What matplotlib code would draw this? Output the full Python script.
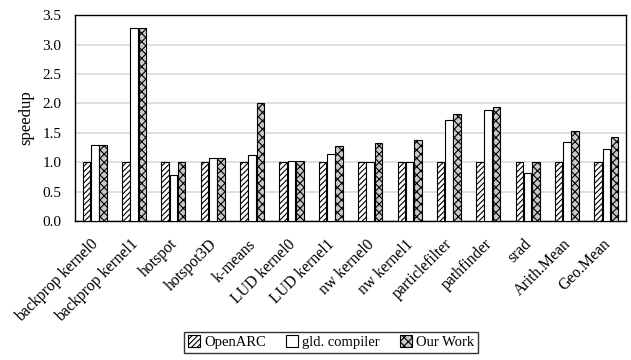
import numpy as np
import matplotlib
matplotlib.use('Agg')
import matplotlib.pyplot as plt
from matplotlib.transforms import ScaledTranslation

plt.rcParams['font.family'] = 'Liberation Serif'
plt.rcParams['hatch.linewidth'] = 0.8

benchmarks = ['backprop kernel0', 'backprop kernel1', 'hotspot', 'hotspot3D', 'k-means',
              'LUD kernel0', 'LUD kernel1', 'nw kernel0', 'nw kernel1', 'particlefilter',
              'pathfinder', 'srad', 'Arith.Mean', 'Geo.Mean']
openarc = [1.0, 1.0, 1.0, 1.0, 1.0, 1.0, 1.0, 1.0, 1.0, 1.0, 1.0, 1.0, 1.0, 1.0]
gld = [1.30, 3.28, 0.79, 1.07, 1.12, 1.02, 1.14, 1.0, 1.0, 1.72, 1.89, 0.82, 1.34, 1.23]
ours = [1.30, 3.28, 1.0, 1.07, 2.0, 1.02, 1.27, 1.32, 1.38, 1.82, 1.94, 1.0, 1.53, 1.43]

fig = plt.figure(figsize=(6.31, 3.6), dpi=100)
ax = fig.add_axes([0.119, 0.386, 0.873, 0.572])

x = np.arange(len(benchmarks))
w = 0.19
ax.bar(x - w - 0.02, openarc, w, color='white', edgecolor='black', hatch='//////', lw=0.8, label='OpenARC', zorder=3)
ax.bar(x, gld, w, color='white', edgecolor='black', lw=0.8, label='gld. compiler', zorder=3)
ax.bar(x + w + 0.02, ours, w, color='#c8c8c8', edgecolor='black', hatch='xxxx', lw=0.8, label='Our Work', zorder=3)

ax.set_xlim(-0.5, len(benchmarks) - 0.5)
ax.set_ylim(0, 3.5)
ax.set_yticks(np.arange(0, 3.51, 0.5))
ax.set_yticklabels(['%.1f' % v for v in np.arange(0, 3.51, 0.5)], fontsize=11)
ax.yaxis.grid(True, color='#d9d9d9', lw=1.2, zorder=0)
ax.tick_params(axis='both', length=0)
ax.tick_params(axis='y', pad=10)
ax.tick_params(axis='x', pad=11)
ax.set_xticks(x)
ax.set_xticklabels(benchmarks, rotation=45, ha='right', va='top', rotation_mode='anchor', fontsize=11.3)
# nudge the slanted labels a little to the left
shift = ScaledTranslation(-3 / 72, 0, fig.dpi_scale_trans)
for lbl in ax.get_xticklabels():
    lbl.set_transform(lbl.get_transform() + shift)
ax.set_ylabel('speedup', fontsize=12, labelpad=6)
for s in ax.spines.values():
    s.set_linewidth(1.0)

fig.legend(loc='lower center', bbox_to_anchor=(0.525, 0.0), ncol=3, fontsize=10.5, frameon=True,
           fancybox=False, edgecolor='black', handlelength=0.8, handleheight=0.8,
           handletextpad=0.3, columnspacing=1.4, borderpad=0.25)

fig.savefig('out.png', dpi=100)
